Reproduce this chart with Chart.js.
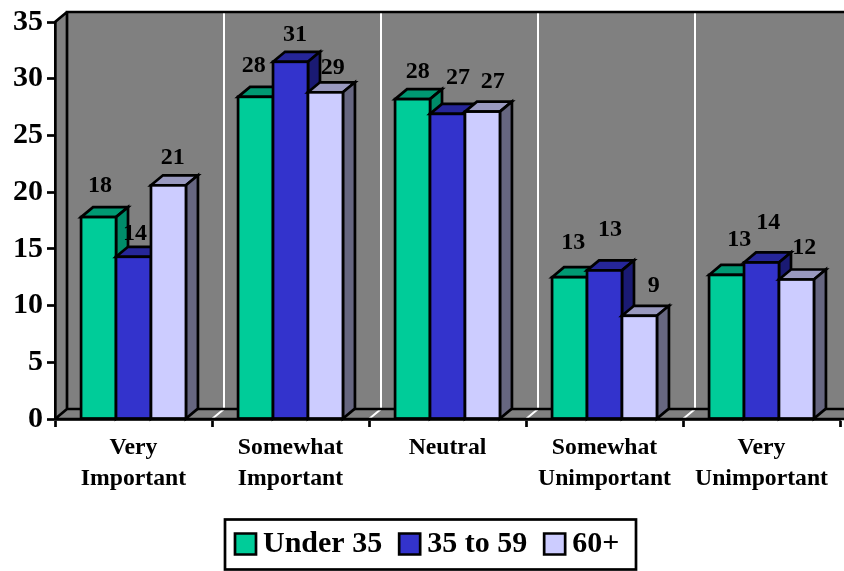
<!DOCTYPE html>
<html>
<head>
<meta charset="utf-8">
<script src="https://cdn.jsdelivr.net/npm/chart.js@4/dist/chart.umd.min.js"></script>
<style>html,body{margin:0;padding:0;background:#fff}canvas{display:block}</style>
</head>
<body>
<canvas id="c" width="844" height="571"></canvas>
<script>
const categories = [["Very","Important"],["Somewhat","Important"],["Neutral"],["Somewhat","Unimportant"],["Very","Unimportant"]];
const under35 = [17.8, 28.4, 28.2, 12.5, 12.7];
const mid35to59 = [14.3, 31.49, 26.9, 13.1, 13.8];
const over60 = [20.6, 28.8, 27.1, 9.1, 12.3];
const seriesNames = ["Under 35","35 to 59","60+"];
const frontColors = ["#00CC99","#3333CC","#CCCCFF"];
const topColors = ["#009973","#262699","#9999BF"];
const sideColors = ["#008C69","#1A1A73","#666680"];
// label nudges relative to each bar's top-centre: [dx, dy above], per series
const labelNudge = [
  [[1.5,31],[-1.8,30.7],[5.2,27.3],[3.8,34.7],[12.8,35.3]],
  [[1.5,23.3],[4.5,26.7],[10.5,35.7],[5.5,41],[6.8,39.3]],
  [[4.2,27.3],[7.2,25],[10.2,30],[14.2,29.6],[7.8,31.3]]
];
const DX = 12, DY = 10, LINE = 2.7, FONT = '"Liberation Serif"';

const threeD = {
  id: 'threeD',
  beforeDraw(chart) {
    const {ctx, chartArea: a, scales: {x}} = chart;
    const W = chart.width;
    ctx.save();
    ctx.fillStyle = '#fff'; ctx.fillRect(0,0,W,chart.height);
    ctx.fillStyle = '#808080';
    ctx.fillRect(a.left + DX, a.top - DY, W, a.bottom - a.top);
    ctx.beginPath();
    ctx.moveTo(a.left,a.top); ctx.lineTo(a.left+DX,a.top-DY); ctx.lineTo(a.left+DX,a.bottom-DY);
    ctx.lineTo(W,a.bottom-DY); ctx.lineTo(W,a.bottom); ctx.lineTo(a.left,a.bottom); ctx.closePath();
    ctx.fill();
    // white gridlines on wall and floor, at the category boundaries
    ctx.strokeStyle = '#fff'; ctx.lineWidth = 2;
    const n = categories.length;
    for (let i = 1; i < n; i++) {
      const px = x.getPixelForValue(i - 0.5);
      ctx.beginPath();
      ctx.moveTo(px + DX, a.top - DY);
      ctx.lineTo(px + DX, a.bottom - DY);
      ctx.lineTo(px, a.bottom);
      ctx.stroke();
    }
    // black wall edges
    ctx.strokeStyle = '#000'; ctx.lineWidth = LINE; ctx.lineJoin = 'miter';
    ctx.beginPath();
    ctx.moveTo(W+2, a.top-DY); ctx.lineTo(a.left+DX, a.top-DY); ctx.lineTo(a.left+DX, a.bottom-DY); ctx.lineTo(W+2, a.bottom-DY);
    ctx.moveTo(a.left, a.top); ctx.lineTo(a.left+DX, a.top-DY);
    ctx.moveTo(a.left, a.bottom); ctx.lineTo(a.left+DX, a.bottom-DY);
    ctx.moveTo(a.left, a.bottom); ctx.lineTo(W+2, a.bottom);
    ctx.stroke();
    ctx.restore();
  },
  afterDatasetsDraw(chart) {
    const {ctx} = chart;
    ctx.save();
    ctx.strokeStyle = '#000'; ctx.lineWidth = LINE; ctx.lineJoin = 'miter';
    // repaint left to right so nearer-left bars sit under their right neighbours' 3D faces
    chart.data.datasets.forEach((ds, i) => {
      chart.getDatasetMeta(i).data.forEach(b => {
        const p = b.getProps(['x','y','base','width'], true);
        const l = p.x - p.width/2, r = p.x + p.width/2;
        ctx.fillStyle = topColors[i];
        ctx.beginPath();
        ctx.moveTo(l,p.y); ctx.lineTo(l+DX,p.y-DY); ctx.lineTo(r+DX,p.y-DY); ctx.lineTo(r,p.y); ctx.closePath();
        ctx.fill(); ctx.stroke();
        ctx.fillStyle = sideColors[i];
        ctx.beginPath();
        ctx.moveTo(r,p.y); ctx.lineTo(r+DX,p.y-DY); ctx.lineTo(r+DX,p.base-DY); ctx.lineTo(r,p.base); ctx.closePath();
        ctx.fill(); ctx.stroke();
        b.draw(ctx);
        ctx.strokeStyle = '#000'; ctx.lineWidth = LINE;
        ctx.strokeRect(l, p.y, p.width, p.base - p.y);
      });
    });
    ctx.fillStyle = '#000'; ctx.textAlign = 'center'; ctx.textBaseline = 'middle';
    ctx.font = 'bold 24px ' + FONT;
    chart.data.datasets.forEach((ds, i) => {
      chart.getDatasetMeta(i).data.forEach((b, j) => {
        const p = b.getProps(['x','y'], true);
        ctx.fillText(String(Math.round(ds.data[j])), p.x + labelNudge[i][j][0], p.y - labelNudge[i][j][1]);
      });
    });
    ctx.restore();
  },
  afterLayout(chart) {
    const lg = chart.legend;
    lg.left = 218; lg.right = 844;
    lg.top = 504;
  },
  afterDraw(chart) {
    const {ctx} = chart;
    ctx.save();
    ctx.strokeStyle = '#000'; ctx.lineWidth = LINE;
    ctx.strokeRect(225, 519.5, 411, 50);
    ctx.restore();
  }
};

new Chart(document.getElementById('c'), {
  type: 'bar',
  plugins: [threeD],
  data: {
    labels: categories,
    datasets: [under35, mid35to59, over60].map((d, i) => ({
      label: seriesNames[i], data: d, backgroundColor: frontColors[i], borderWidth: 0,
      categoryPercentage: 0.668, barPercentage: 1
    }))
  },
  options: {
    responsive: false, animation: false, devicePixelRatio: 1,
    layout: {padding: {top: 20, right: 4, left: 0, bottom: 0}},
    plugins: {
      tooltip: {enabled: false},
      legend: {
        position: 'bottom', align: 'start',
        labels: {
          usePointStyle: true, pointStyle: 'rect', boxWidth: 5, boxHeight: 21, padding: 25,
          color: '#000', font: {family: FONT, size: 30, weight: 'bold'},
          generateLabels: c => Chart.defaults.plugins.legend.labels.generateLabels(c).map(l => ({...l, lineWidth: LINE, strokeStyle: '#000', pointStyle: 'rect'}))
        }
      }
    },
    scales: {
      x: {
        afterFit(s) { s.height = 87; },
        grid: {display: true, drawOnChartArea: false, drawTicks: true, tickLength: 8, tickWidth: LINE, tickColor: '#000'},
        border: {display: true, color: '#000', width: LINE},
        ticks: {color: '#000', font: {family: FONT, size: 23.7, weight: 'bold', lineHeight: 1.31}, padding: 5, maxRotation: 0, autoSkip: false}
      },
      y: {
        min: 0, max: 35,
        afterFit(s) { s.width = 55; },
        grid: {display: true, drawOnChartArea: false, drawTicks: true, tickLength: 8, tickWidth: LINE, tickColor: '#000'},
        border: {display: true, color: '#000', width: LINE},
        ticks: {stepSize: 5, color: '#000', font: {family: FONT, size: 30, weight: 'bold'}, padding: 4}
      }
    }
  }
});
</script>
</body>
</html>
